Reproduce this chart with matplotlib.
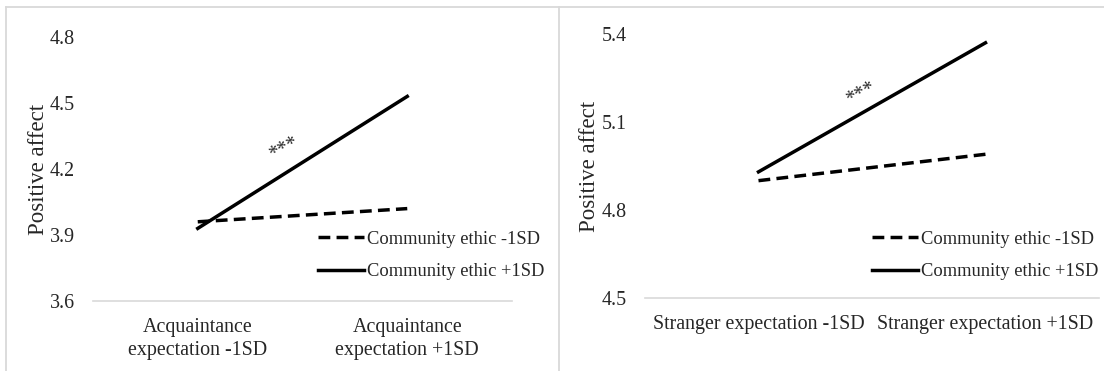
import matplotlib.pyplot as plt
from matplotlib.lines import Line2D

# simple slopes, community ethic as moderator
acq_labels = ['Acquaintance\nexpectation -1SD', 'Acquaintance\nexpectation +1SD']
acq_low = [3.96, 4.02]    # community ethic -1SD
acq_high = [3.93, 4.53]   # community ethic +1SD
acq_ticks = [3.6, 3.9, 4.2, 4.5, 4.8]

str_labels = ['Stranger expectation -1SD', 'Stranger expectation +1SD']
str_low = [4.90, 4.99]
str_high = [4.93, 5.37]
str_ticks = [4.5, 4.8, 5.1, 5.4]

series_names = ['Community ethic -1SD', 'Community ethic +1SD']
sig_mark = '***'

plt.rcParams['font.family'] = ['Liberation Serif', 'DejaVu Serif']

W, H = 1104, 371
fig = plt.figure(figsize=(W / 100, H / 100), dpi=100)

grey = '#d9d9d9'
txt = '#262626'


def px(x0, y0, x1, y1):
  # pixel box (top-down) -> figure fraction rect
  return [x0 / W, 1 - y1 / H, (x1 - x0) / W, (y1 - y0) / H]


def panel(rect, labels, low, high, ticks, star_xy, leg_xy, ylab_x):
  ax = fig.add_axes(rect)
  x = [0, 1]
  ax.plot(x, low, color='black', lw=2.5, ls=(0, (3.4, 1.8)), solid_capstyle='butt', label=series_names[0])
  ax.plot(x, high, color='black', lw=2.5, label=series_names[1])
  ax.set_xlim(-0.5, 1.5)
  ax.set_ylim(ticks[0], ticks[-1])
  ax.set_yticks(ticks)
  ax.set_yticklabels(['%.1f' % t for t in ticks])
  ax.set_xticks(x)
  ax.set_xticklabels(labels, linespacing=1.3)
  ax.tick_params(axis='both', length=0, labelsize=14.4, colors=txt)
  ax.tick_params(axis='y', pad=13)
  ax.tick_params(axis='x', pad=12)
  for s in ['top', 'right', 'left']:
    ax.spines[s].set_visible(False)
  ax.spines['bottom'].set_color(grey)
  ax.spines['bottom'].set_linewidth(1.2)
  ax.set_ylabel('Positive affect', fontsize=16.5, color=txt)
  ax.yaxis.set_label_coords(ylab_x, 0.5)
  ax.text(star_xy[0], star_xy[1], sig_mark, fontsize=14.5, rotation=28,
          ha='center', va='center', color=txt)
  leg = ax.legend(loc='center left', bbox_to_anchor=leg_xy, bbox_transform=fig.transFigure,
                  frameon=False, fontsize=13.3, handlelength=2.5, handletextpad=0.15,
                  borderpad=0, borderaxespad=0, labelspacing=0.85)
  for t in leg.get_texts():
    t.set_color(txt)
  return ax


panel(px(93, 37, 512, 301), acq_labels, acq_low, acq_high, acq_ticks,
      (0.41, 4.29), (318 / W, 1 - 255.5 / H), -0.105)
panel(px(645, 34, 1099, 298), str_labels, str_low, str_high, str_ticks,
      (0.45, 5.195), (872 / W, 1 - 255.5 / H), -0.1)

# chart-area borders
for xs, ys in [([6, W], [7, 7]), ([6, 6], [7, H]), ([559, 559], [7, H])]:
  fig.add_artist(Line2D([v / W for v in xs], [1 - v / H for v in ys],
                        color=grey, lw=1.3, transform=fig.transFigure))

fig.savefig('out.png', dpi=100)
